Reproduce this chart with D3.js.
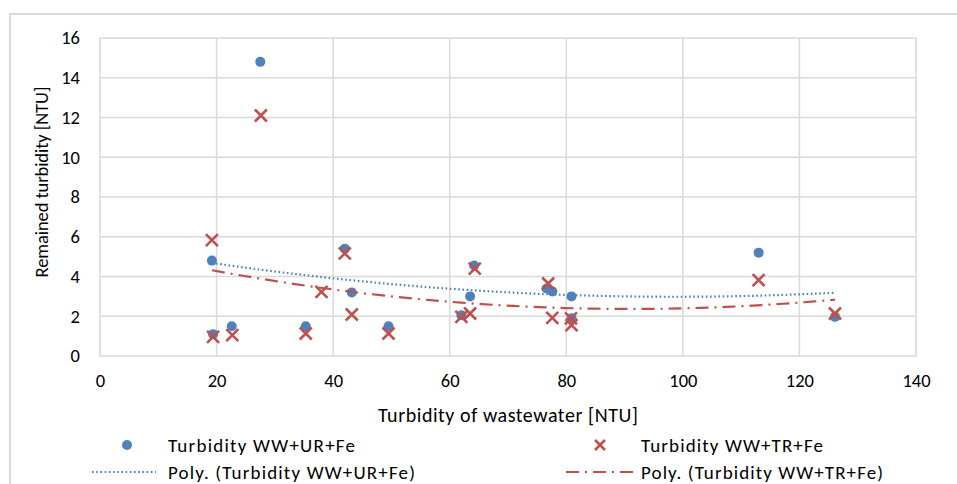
<!DOCTYPE html>
<html>
<head>
<meta charset="utf-8">
<script src="https://d3js.org/d3.v7.min.js"></script>
<style>
body { margin: 0; background: #fff; }
svg text { font-family: Carlito, Lato, "Open Sans", sans-serif; fill: #000; }
.grid line { stroke: #d9d9d9; stroke-width: 1.5px; }
.axis path, .axis line { display: none; }
.axis text { font-size: 18.5px; }
</style>
</head>
<body>
<svg width="957" height="484"></svg>
<script>

// turbidity of wastewater (x) and remained turbidity (y)
var urX = [19.2, 19.4, 22.6, 27.5, 35.3, 42.0, 43.2, 49.5, 62.0, 63.5, 64.2, 76.6, 77.6, 80.9, 80.9, 113.0, 126.1];
var urY = [4.8, 1.1, 1.5, 14.8, 1.5, 5.4, 3.2, 1.5, 2.05, 3.0, 4.55, 3.4, 3.25, 3.0, 1.9, 5.2, 1.97];

var trX = [19.2, 19.4, 22.7, 27.6, 35.3, 38.0, 42.0, 43.2, 49.5, 62.0, 63.5, 64.3, 76.9, 77.6, 80.8, 80.9, 113.0, 126.1];
var trY = [5.83, 0.96, 1.05, 12.1, 1.13, 3.23, 5.16, 2.09, 1.13, 1.97, 2.14, 4.4, 3.65, 1.92, 1.89, 1.55, 3.82, 2.14];

var xTicks = [0, 20, 40, 60, 80, 100, 120, 140];
var yTicks = [0, 2, 4, 6, 8, 10, 12, 14, 16];

var seriesNames = ["Turbidity WW+UR+Fe", "Turbidity WW+TR+Fe",
                   "Poly. (Turbidity WW+UR+Fe)", "Poly. (Turbidity WW+TR+Fe)"];

var blue = "#4f81bd", red = "#c0504d";

var svg = d3.select("svg"),
    margin = {top: 38, right: 41, bottom: 128, left: 100},
    width = +svg.attr("width") - margin.left - margin.right,
    height = +svg.attr("height") - margin.top - margin.bottom;

// outer chart frame (bottom and right run off the picture)
svg.append("path")
    .attr("d", "M10,490V14H960")
    .attr("fill", "none")
    .attr("stroke", "#d9d9d9")
    .attr("stroke-width", 2);

var g = svg.append("g").attr("transform", "translate(" + margin.left + "," + margin.top + ")");

var x = d3.scaleLinear().domain([0, 140]).range([0, width]);
var y = d3.scaleLinear().domain([0, 16]).range([height, 0]);

g.append("g").attr("class", "grid")
  .selectAll("line").data(yTicks).enter().append("line")
    .attr("x1", 0).attr("x2", width)
    .attr("y1", function(d) { return y(d); })
    .attr("y2", function(d) { return y(d); });

g.append("g").attr("class", "grid")
  .selectAll("line").data(xTicks).enter().append("line")
    .attr("y1", 0).attr("y2", height)
    .attr("x1", function(d) { return x(d); })
    .attr("x2", function(d) { return x(d); });

g.append("g")
    .attr("class", "axis")
    .attr("transform", "translate(0," + height + ")")
    .call(d3.axisBottom(x).tickValues(xTicks).tickSize(0).tickPadding(18));

g.append("g")
    .attr("class", "axis")
    .call(d3.axisLeft(y).tickValues(yTicks).tickSize(0).tickPadding(20));

g.append("text")
    .attr("x", 408)
    .attr("y", height + 66)
    .attr("text-anchor", "middle")
    .attr("textLength", 260)
    .style("font-size", "20px")
    .text("Turbidity of wastewater [NTU]");

g.append("text")
    .attr("transform", "translate(-52," + 144 + ") rotate(-90)")
    .attr("text-anchor", "middle")
    .attr("textLength", 191)
    .style("font-size", "18.5px")
    .text("Remained turbidity [NTU]");

// 2nd order least squares fit, like the spreadsheet's poly trendline
function polyFit(xs, ys) {
  var s = [0, 0, 0, 0, 0], t = [0, 0, 0];
  xs.forEach(function(xv, i) {
    for (var k = 0; k < 5; k++) s[k] += Math.pow(xv, k);
    for (var k = 0; k < 3; k++) t[k] += ys[i] * Math.pow(xv, k);
  });
  var m = [[s[0], s[1], s[2], t[0]], [s[1], s[2], s[3], t[1]], [s[2], s[3], s[4], t[2]]];
  for (var c = 0; c < 3; c++) {
    for (var r = c + 1; r < 3; r++) {
      var f = m[r][c] / m[c][c];
      for (var k = c; k < 4; k++) m[r][k] -= f * m[c][k];
    }
  }
  var a = [0, 0, 0];
  for (var r = 2; r >= 0; r--) {
    var v = m[r][3];
    for (var k = r + 1; k < 3; k++) v -= m[r][k] * a[k];
    a[r] = v / m[r][r];
  }
  return function(xv) { return a[0] + a[1] * xv + a[2] * xv * xv; };
}

function trend(xs, ys) {
  var f = polyFit(xs, ys), lo = d3.min(xs), hi = d3.max(xs);
  return d3.range(0, 61).map(function(i) {
    var xv = lo + (hi - lo) * i / 60;
    return [xv, f(xv)];
  });
}

var line = d3.line()
    .x(function(d) { return x(d[0]); })
    .y(function(d) { return y(d[1]); });

var urPts = urX.map(function(d, i) { return [d, urY[i]]; });
var trPts = trX.map(function(d, i) { return [d, trY[i]]; });

g.selectAll(".dot").data(urPts).enter().append("circle")
    .attr("class", "dot")
    .attr("cx", function(d) { return x(d[0]); })
    .attr("cy", function(d) { return y(d[1]); })
    .attr("r", 5)
    .attr("fill", blue);

function cross(sel, s) {
  sel.append("path")
    .attr("d", "M" + (-s) + "," + (-s) + "L" + s + "," + s + "M" + (-s) + "," + s + "L" + s + "," + (-s))
    .attr("stroke", red)
    .attr("stroke-width", 2.6)
    .attr("fill", "none");
}

g.selectAll(".cross").data(trPts).enter().append("g")
    .attr("class", "cross")
    .attr("transform", function(d) { return "translate(" + x(d[0]) + "," + y(d[1]) + ")"; })
    .call(cross, 6);

g.append("path")
    .datum(trend(urX, urY))
    .attr("d", line)
    .attr("fill", "none")
    .attr("stroke", blue)
    .attr("stroke-width", 2.2)
    .attr("stroke-dasharray", "1.6,2.6");

g.append("path")
    .datum(trend(trX, trY))
    .attr("d", line)
    .attr("fill", "none")
    .attr("stroke", red)
    .attr("stroke-width", 2.2)
    .attr("stroke-dasharray", "13,6,2,6");

// legend
var leg = svg.append("g");
var rows = [
  {x: 127, y: 445, tx: 168, w: 187, type: "dot", label: seriesNames[0]},
  {x: 600, y: 445, tx: 641, w: 182, type: "cross", label: seriesNames[1]},
  {x: 124, y: 472, tx: 168, w: 247, type: "dotline", label: seriesNames[2]},
  {x: 600, y: 472, tx: 641, w: 242, type: "dashdot", label: seriesNames[3]}
];
rows.forEach(function(r) {
  var e = leg.append("g").attr("transform", "translate(" + r.x + "," + r.y + ")");
  if (r.type === "dot") e.append("circle").attr("r", 5).attr("fill", blue);
  if (r.type === "cross") cross(e, 5);
  if (r.type === "dotline") e.append("line").attr("x1", -32).attr("x2", 32)
      .attr("stroke", blue).attr("stroke-width", 2.2).attr("stroke-dasharray", "1.6,2.6");
  if (r.type === "dashdot") e.append("line").attr("x1", -34).attr("x2", 34)
      .attr("stroke", red).attr("stroke-width", 2.2).attr("stroke-dasharray", "13,6,2,6");
  leg.append("text")
      .attr("x", r.tx)
      .attr("y", r.y)
      .attr("dy", "0.35em")
      .attr("textLength", r.w)
      .style("font-size", "19px")
      .text(r.label);
});

</script>
</body>
</html>
